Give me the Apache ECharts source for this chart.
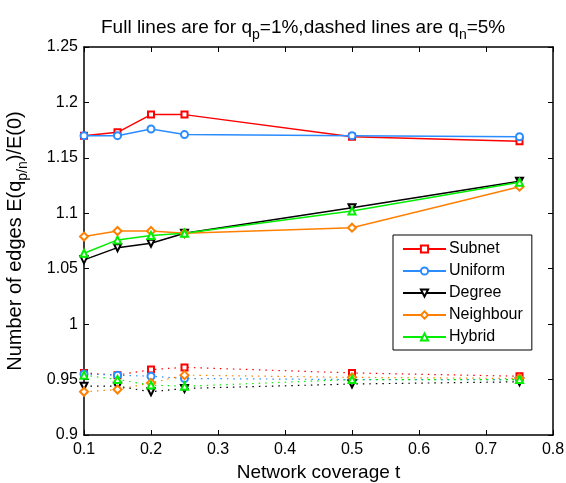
<!DOCTYPE html>
<html>
<head>
<meta charset="utf-8">
<script src="https://cdn.jsdelivr.net/npm/echarts@6/dist/echarts.min.js"></script>
<style>
html,body{margin:0;padding:0;background:#fff;}
#chart{width:566px;height:483px;}
</style>
</head>
<body>
<div id="chart"></div>
<script>
var chart = echarts.init(document.getElementById('chart'));

var tValues = [0.1, 0.15, 0.2, 0.25, 0.5, 0.75];
var names = ['Subnet', 'Uniform', 'Degree', 'Neighbour', 'Hybrid'];
// full lines, q_p = 1%
var subnetP    = [1.170, 1.173, 1.189, 1.189, 1.169, 1.165];
var uniformP   = [1.170, 1.170, 1.176, 1.171, 1.170, 1.169];
var degreeP    = [1.058, 1.069, 1.073, 1.082, 1.105, 1.129];
var neighbourP = [1.079, 1.084, 1.084, 1.082, 1.087, 1.124];
var hybridP    = [1.064, 1.076, 1.080, 1.082, 1.102, 1.128];
// dashed lines, q_n = 5%
var subnetN    = [0.956, 0.954, 0.959, 0.961, 0.956, 0.953];
var uniformN   = [0.955, 0.954, 0.953, 0.951, 0.950, 0.950];
var degreeN    = [0.944, 0.944, 0.939, 0.942, 0.946, 0.948];
var neighbourN = [0.939, 0.941, 0.947, 0.954, 0.952, 0.951];
var hybridN    = [0.954, 0.950, 0.945, 0.944, 0.950, 0.950];

var colors = ['#ff0000', '#2a8cff', '#000000', '#ff8000', '#00ee00'];
var symbols = ['emptyRect', 'emptyCircle', 'emptyTriangle', 'emptyDiamond', 'emptyTriangle'];
var rotates = [0, 0, 180, 0, 0];
var sizes = [6, 7, 7, 8, 7];
var fullData = [subnetP, uniformP, degreeP, neighbourP, hybridP];
var dashData = [subnetN, uniformN, degreeN, neighbourN, hybridN];

function pairs(vals) {
    return tValues.map(function (t, i) { return [t, vals[i]]; });
}

var series = [];
for (var i = 0; i < names.length; i++) {
    series.push({
        name: names[i],
        type: 'line',
        data: pairs(fullData[i]),
        symbol: symbols[i],
        symbolRotate: rotates[i],
        symbolSize: sizes[i],
        itemStyle: {color: colors[i], borderWidth: 1.5},
        lineStyle: {color: colors[i], width: 1.5},
        animation: false
    });
}
for (var j = 0; j < names.length; j++) {
    series.push({
        name: names[j] + ' n',
        type: 'line',
        data: pairs(dashData[j]),
        symbol: symbols[j],
        symbolRotate: rotates[j],
        symbolSize: sizes[j],
        itemStyle: {color: colors[j], borderWidth: 1.5},
        lineStyle: {color: colors[j], width: 1.2, type: [1.5, 5]},
        animation: false
    });
}

var tickFont = {color: '#000', fontSize: 16, fontFamily: 'Liberation Sans'};
var subStyle = {fontSize: 14, fontFamily: 'Liberation Sans', color: '#000', padding: [15, 0, 0, 0]};

option = {
    backgroundColor: '#fff',
    title: {
        text: 'Full lines are for q{sub|p}=1%,dashed lines are q{sub|n}=5%',
        left: 96,
        top: 8,
        textStyle: {
            color: '#000',
            fontWeight: 'normal',
            fontSize: 19,
            fontFamily: 'Liberation Sans',
            rich: {sub: subStyle}
        }
    },
    legend: {
        data: names,
        orient: 'vertical',
        left: 393,
        top: 235,
        itemWidth: 43,
        itemHeight: 9,
        itemGap: 6,
        padding: [6, 9, 5, 9],
        backgroundColor: '#fff',
        borderColor: '#000',
        borderWidth: 1,
        borderRadius: 0,
        textStyle: {color: '#000', fontSize: 16, fontFamily: 'Liberation Sans', padding: [0, 0, 0, -2]}
    },
    grid: {
        left: 84,
        right: 13,
        top: 47,
        bottom: 48,
        outerBoundsMode: 'none'
    },
    xAxis: [{
        type: 'value',
        min: 0.1,
        max: 0.8,
        interval: 0.1,
        name: 'Network coverage t',
        nameLocation: 'middle',
        nameGap: 23,
        nameTextStyle: {color: '#000', fontSize: 19, fontFamily: 'Liberation Sans', verticalAlign: 'top'},
        axisLine: {lineStyle: {color: '#000', width: 1.5}},
        axisTick: {inside: true, length: 5, lineStyle: {color: '#000'}},
        axisLabel: Object.assign({margin: 7, formatter: function (v) { return v.toFixed(1); }}, tickFont),
        splitLine: {show: false}
    }, {
        type: 'value',
        position: 'top',
        min: 0.1,
        max: 0.8,
        interval: 0.1,
        axisLine: {onZero: false, lineStyle: {color: '#000', width: 1.5}},
        axisTick: {inside: true, length: 5, lineStyle: {color: '#000'}},
        axisLabel: {show: false},
        splitLine: {show: false}
    }],
    yAxis: [{
        type: 'value',
        min: 0.9,
        max: 1.25,
        interval: 0.05,
        name: 'Number of edges E(q{sub|p/n})/E(0)',
        nameLocation: 'middle',
        nameGap: 54,
        nameTextStyle: {
            color: '#000', fontSize: 20, fontFamily: 'Liberation Sans',
            rich: {sub: subStyle}
        },
        axisLine: {onZero: false, lineStyle: {color: '#000', width: 1.5}},
        axisTick: {inside: true, length: 5, lineStyle: {color: '#000'}},
        axisLabel: Object.assign({margin: 6, formatter: function (v) { return String(parseFloat(v.toFixed(2))); }}, tickFont),
        splitLine: {show: false}
    }, {
        type: 'value',
        position: 'right',
        min: 0.9,
        max: 1.25,
        interval: 0.05,
        axisLine: {show: true, onZero: false, lineStyle: {color: '#000', width: 1.5}},
        axisTick: {show: true, inside: true, length: 5, lineStyle: {color: '#000'}},
        axisLabel: {show: false},
        splitLine: {show: false}
    }],
    series: series
};

chart.setOption(option);
</script>
</body>
</html>
